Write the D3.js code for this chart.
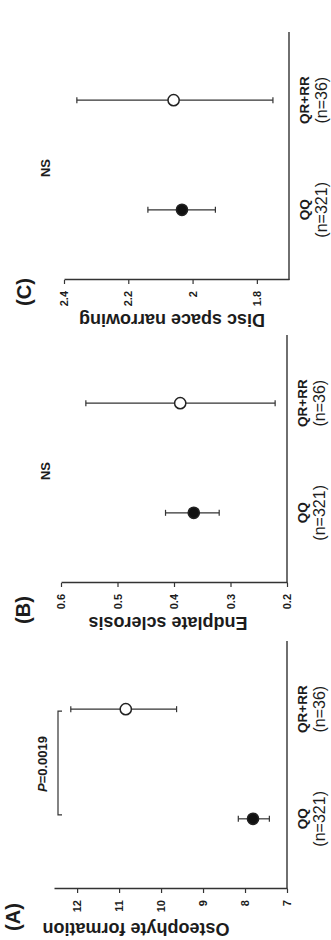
<!DOCTYPE html>
<html>
<head>
<meta charset="utf-8">
<script src="https://cdn.jsdelivr.net/npm/d3@7"></script>
<style>
  html, body { margin: 0; padding: 0; background: #fff; }
  svg { display: block; }
  text { font-family: "Liberation Sans", Arial, sans-serif; fill: #1c1c1c; }
</style>
</head>
<body>
<div id="chart"></div>
<script>
const groups = ["QQ", "QR+RR"];
const groupCounts = ["(n=321)", "(n=36)"];
const panelTags = ["(A)", "(B)", "(C)"];
const measures = ["Osteophyte formation", "Endplate sclerosis", "Disc space narrowing"];
const means = [[7.81, 10.84], [0.365, 0.389], [2.033, 2.059]];
const lower = [[7.42, 9.63], [0.32, 0.221], [1.929, 1.75]];
const upper = [[8.16, 12.15], [0.415, 0.556], [2.139, 2.36]];
const yDomains = [[7, 12.55], [0.2, 0.6], [1.7, 2.4]];
const yTicks = [[7, 8, 9, 10, 11, 12], [0.2, 0.3, 0.4, 0.5, 0.6], [1.8, 2, 2.2, 2.4]];
const tests = ["P=0.0019", "NS", "NS"];

const W = 331, H = 940;
// the figure is laid out upright (940 wide, 331 tall) and then turned a quarter left
const panelLeft = [51, 357, 660];
const panelTop = [54, 61, 64];
const panelBottom = [287, 287, 289];
const titleCenter = [136, 168, 172];
const tagPos = [[-28, 14], [-27, 24], [-12, 25]];
const lineColor = "#333";

const svg = d3.select("#chart").append("svg")
    .attr("width", W)
    .attr("height", H);

const fig = svg.append("g")
    .attr("transform", "translate(0," + H + ") rotate(-90)");

panelTags.forEach(function(tag, i) {
  const g = fig.append("g")
      .attr("transform", "translate(" + panelLeft[i] + ",0)");

  const x = d3.scalePoint()
      .domain(groups)
      .range([0, 250])
      .padding(0.64);

  const y = d3.scaleLinear()
      .domain(yDomains[i])
      .range([panelBottom[i], panelTop[i]]);

  // value axis
  const yAxis = d3.axisLeft(y)
      .tickValues(yTicks[i])
      .tickFormat(String)
      .tickSize(4)
      .tickSizeOuter(0)
      .tickPadding(7);

  const ya = g.append("g").attr("class", "y axis").call(yAxis);
  ya.select(".domain").attr("stroke", lineColor).attr("stroke-width", 1.4);
  ya.selectAll(".tick line").attr("stroke", lineColor).attr("stroke-width", 1.2);
  ya.selectAll(".tick text")
      .style("font-size", "11px")
      .style("font-weight", "bold");

  // category axis, line only
  g.append("line")
      .attr("x1", 0)
      .attr("x2", 248)
      .attr("y1", panelBottom[i])
      .attr("y2", panelBottom[i])
      .attr("stroke", lineColor)
      .attr("stroke-width", 1.4);

  g.selectAll(".group-label")
      .data(groups)
      .enter()
      .append("text")
      .attr("class", "group-label")
      .attr("x", function(d) { return x(d); })
      .attr("y", panelBottom[i] + 20)
      .attr("text-anchor", "middle")
      .style("font-size", "13.5px")
      .style("font-weight", "bold")
      .text(function(d) { return d; });

  g.selectAll(".count-label")
      .data(groups)
      .enter()
      .append("text")
      .attr("class", "count-label")
      .attr("x", function(d) { return x(d); })
      .attr("y", panelBottom[i] + 38)
      .attr("text-anchor", "middle")
      .style("font-size", "16px")
      .text(function(d, j) { return groupCounts[j]; });

  // axis title
  g.append("text")
      .attr("transform", "translate(-34," + titleCenter[i] + ") rotate(-90)")
      .attr("text-anchor", "middle")
      .style("font-size", "18px")
      .style("font-weight", "bold")
      .text(measures[i]);

  // panel tag
  g.append("text")
      .attr("x", tagPos[i][0])
      .attr("y", tagPos[i][1])
      .attr("text-anchor", "middle")
      .attr("dy", "0.3em")
      .style("font-size", "20px")
      .style("font-weight", "bold")
      .text(tag);

  const rows = groups.map(function(gr, j) {
    return { group: gr, mean: means[i][j], lo: lower[i][j], hi: upper[i][j], filled: j === 0 };
  });

  // error bars
  g.selectAll(".err")
      .data(rows)
      .enter()
      .append("line")
      .attr("class", "err")
      .attr("x1", function(d) { return x(d.group); })
      .attr("x2", function(d) { return x(d.group); })
      .attr("y1", function(d) { return y(d.lo); })
      .attr("y2", function(d) { return y(d.hi); })
      .attr("stroke", lineColor)
      .attr("stroke-width", 1.2);

  ["lo", "hi"].forEach(function(end) {
    g.selectAll(".cap-" + end)
        .data(rows)
        .enter()
        .append("line")
        .attr("class", "cap-" + end)
        .attr("x1", function(d) { return x(d.group) - 3; })
        .attr("x2", function(d) { return x(d.group) + 3; })
        .attr("y1", function(d) { return y(d[end]); })
        .attr("y2", function(d) { return y(d[end]); })
        .attr("stroke", lineColor)
        .attr("stroke-width", 1.2);
  });

  g.selectAll(".pt")
      .data(rows)
      .enter()
      .append("circle")
      .attr("class", "pt")
      .attr("cx", function(d) { return x(d.group); })
      .attr("cy", function(d) { return y(d.mean); })
      .attr("r", 5.6)
      .attr("fill", function(d) { return d.filled ? "#111" : "#fff"; })
      .attr("stroke", "#222")
      .attr("stroke-width", 1.5);

  // significance
  const x0 = x(groups[0]), x1 = x(groups[1]);
  if (i === 0) {
    const by = 58;
    g.append("path")
        .attr("d", "M" + (x0 + 4) + "," + (by + 4) + "V" + by + "H" + (x1 - 2) + "V" + (by + 4))
        .attr("fill", "none")
        .attr("stroke", lineColor)
        .attr("stroke-width", 1.2);
    const pt = g.append("text")
        .attr("x", (x0 + x1) / 2)
        .attr("y", 47)
        .attr("text-anchor", "middle")
        .style("font-size", "13px")
        .style("font-weight", "bold");
    pt.append("tspan").style("font-style", "italic").text(tests[i].slice(0, 1));
    pt.append("tspan").text(tests[i].slice(1));
  } else {
    g.append("text")
        .attr("x", (x0 + x1) / 2 - 13)
        .attr("y", 50)
        .attr("text-anchor", "middle")
        .style("font-size", "13px")
        .style("font-weight", "bold")
        .text(tests[i]);
  }
});
</script>
</body>
</html>
